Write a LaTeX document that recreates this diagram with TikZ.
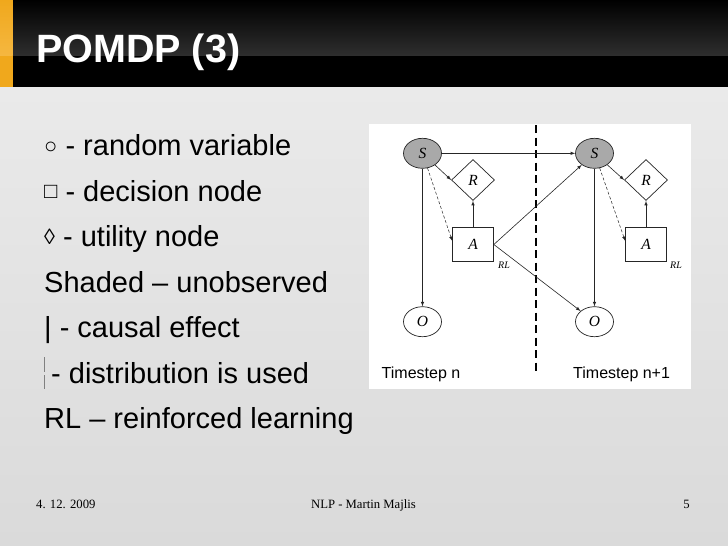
\documentclass[tikz,border=0pt]{standalone}
\usepackage{fontspec}
\setmainfont{Liberation Sans}
\newfontfamily\serifrm{Liberation Serif}
\usetikzlibrary{arrows,shapes,positioning}

\definecolor{barorange}{HTML}{F0A81C}
\definecolor{barglow}{HTML}{F5B740}
\definecolor{nodegray}{HTML}{A9A9A9}
\definecolor{edgegray}{HTML}{262626}
\definecolor{bgtop}{HTML}{EAEAEA}
\definecolor{bgmid}{HTML}{F6F6F6}
\definecolor{bgbot}{HTML}{DADADA}

\tikzset{
  rv/.style={ellipse, draw=edgegray, fill=white, line width=0.7pt, minimum width=38pt, minimum height=30pt, inner sep=0pt, font=\serifrm\itshape\fontsize{15.5}{16}\selectfont},
  hidden/.style={rv, fill=nodegray},
  decision/.style={rectangle, draw=edgegray, fill=white, line width=0.7pt, minimum width=41pt, minimum height=34pt, inner sep=0pt, font=\serifrm\itshape\fontsize{15.5}{16}\selectfont},
  utility/.style={diamond, draw=edgegray, fill=white, line width=0.7pt, minimum width=43pt, minimum height=41pt, inner sep=0pt, font=\serifrm\itshape\fontsize{15.5}{16}\selectfont},
  rltag/.style={anchor=north west, inner sep=0pt, font=\serifrm\itshape\fontsize{10}{10}\selectfont},
  causal/.style={->, >=latex, draw=edgegray, line width=0.6pt},
  distrib/.style={causal, dash pattern=on 3pt off 2pt, line width=0.5pt},
  bullet/.style={anchor=base west, inner sep=0pt, font=\fontsize{29}{29}\selectfont},
  footer/.style={inner sep=0pt, font=\serifrm\fontsize{12.7}{13}\selectfont},
}
\newcommand{\smallsym}[1]{\raisebox{2.5pt}{\fontsize{22}{22}\selectfont #1}}

\begin{document}
\begin{tikzpicture}[x=1pt, y=-1pt]
    \useasboundingbox (0,0) rectangle (728,546);

    % slide background and title bar
    \shade[top color=bgtop, middle color=bgmid, bottom color=bgbot] (0,87) rectangle (728,546);
    \fill[black] (0,0) rectangle (728,87);
    \shade[top color=black, bottom color=black!82!white] (0,0) rectangle (728,55);
    \fill[barorange] (0,0) rectangle (12.5,87);
    \shade[top color=barorange, bottom color=barglow] (0,0) rectangle (12.5,55);
    \node (title) [anchor=base west, inner sep=0pt, text=white, font=\bfseries\fontsize{39.5}{40}\selectfont] at (36,62) {POMDP (3)};

    % legend
    \node (l1) [bullet] at (44,155.5) {\smallsym{○} - random variable};
    \node (l2) [bullet] at (44,201) {\smallsym{□} - decision node};
    \node (l3) [bullet] at (44,246.5) {\smallsym{◊} - utility node};
    \node (l4) [bullet] at (44,292) {Shaded – unobserved};
    \node (l5) [bullet] at (44,337.5) {| - causal effect};
    \draw[gray, line width=1.3pt] (44.5,357) -- (44.5,371.5) (44.5,375) -- (44.5,388.5);
    \node (l6) [bullet] at (51,383) {- distribution is used};
    \node (l7) [bullet] at (44,428.5) {RL – reinforced learning};

    % diagram panel
    \fill[white] (369,124) rectangle (691,389);
    \draw[line width=2pt, dash pattern=on 8pt off 4.5pt] (535.7,125) -- (535.7,373);

    \begin{scope}
      \node (S1) [hidden] at (422.5,153.3) {S};
      \node (R1) [utility] at (473,180) {R};
      \node (A1) [decision] at (473,244.5) {A};
      \node (O1) [rv] at (422.5,321.7) {O};
      \node (rl1) [rltag] at (498,262) {RL};
      \draw[causal] (S1) -- (R1.west);
      \draw[distrib] (S1) -- (A1.170);
      \draw[causal] (S1) -- (O1);
      \draw[causal] (A1) -- (R1);
    \end{scope}

    \begin{scope}[shift={(172,0)}]
      \node (S2) [hidden] at (422.5,153.3) {S};
      \node (R2) [utility] at (474,180) {R};
      \node (A2) [decision] at (474,244.5) {A};
      \node (O2) [rv] at (422.5,321.7) {O};
      \node (rl2) [rltag] at (498,262) {RL};
      \draw[causal] (S2) -- (R2.west);
      \draw[distrib] (S2) -- (A2.170);
      \draw[causal] (S2) -- (O2);
      \draw[causal] (A2) -- (R2);
    \end{scope}

    \draw[causal] (S1) -- (S2);
    \draw[causal] (A1.east) -- (S2);
    \draw[causal] (A1.east) -- (O2);

    \node (ts1) [anchor=base west, inner sep=0pt, font=\fontsize{16}{16}\selectfont] at (381.5,378.5) {Timestep n};
    \node (ts2) [anchor=base west, inner sep=0pt, font=\fontsize{16}{16}\selectfont] at (573,378.5) {Timestep n+1};

    % footer
    \node (date) [footer, anchor=base west] at (36,508) {4. 12. 2009};
    \node (author) [footer, anchor=base] at (363.5,508) {NLP - Martin Majlis};
    \node (page) [footer, anchor=base east] at (690,508) {5};
\end{tikzpicture}
\end{document}
